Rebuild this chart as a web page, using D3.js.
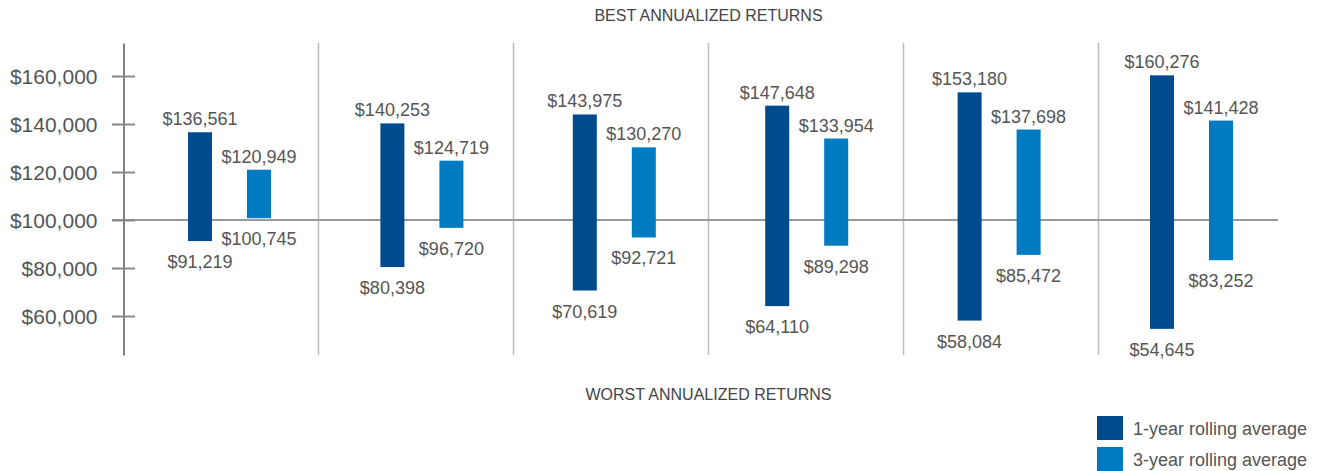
<!DOCTYPE html>
<html>
<head>
<meta charset="utf-8">
<script src="https://cdn.jsdelivr.net/npm/d3@7"></script>
<style>
  body { margin: 0; background: #fff; }
  svg { display: block; font-family: "Liberation Sans", Arial, sans-serif; }
</style>
</head>
<body>
<div id="chart"></div>
<script>
// period groups (six columns, unlabeled in the source)
const groups = ["g1", "g2", "g3", "g4", "g5", "g6"];
const oneYearHigh = [136561, 140253, 143975, 147648, 153180, 160276];
const oneYearLow = [91219, 80398, 70619, 64110, 58084, 54645];
const threeYearHigh = [120949, 124719, 130270, 133954, 137698, 141428];
const threeYearLow = [100745, 96720, 92721, 89298, 85472, 83252];
const tickValues = [60000, 80000, 100000, 120000, 140000, 160000];
const seriesNames = ["1-year rolling average", "3-year rolling average"];
const colors = ["#004b8d", "#007bc2"];

const W = 1319, H = 471;
const svg = d3.select("#chart").append("svg")
    .attr("width", W)
    .attr("height", H);

const y = d3.scaleLinear()
    .domain([43750, 173750])
    .range([355, 43]);

// columns separated by grey rules
const xGroup = d3.scaleBand()
    .domain(groups)
    .range([123.5, 1293.5]);

// bar positions inside each column
const xBar = d3.scalePoint()
    .domain(groups)
    .range([200, 1162]);
const barW = 24;
const pairGap = 59;

const fmt = d => "$" + d3.format(",")(d);

// column separators
svg.append("g")
    .selectAll("line")
    .data(groups.slice(1))
    .join("line")
    .attr("x1", d => xGroup(d))
    .attr("x2", d => xGroup(d))
    .attr("y1", y.range()[1])
    .attr("y2", y.range()[0])
    .attr("stroke", "#bdbdbd")
    .attr("stroke-width", 1.5);

// baseline at $100,000
svg.append("line")
    .attr("x1", 112)
    .attr("x2", 1278)
    .attr("y1", y(100000))
    .attr("y2", y(100000))
    .attr("stroke", "#999")
    .attr("stroke-width", 2);

// y axis
const yAxis = svg.append("g")
    .attr("transform", `translate(123.5,0)`)
    .call(d3.axisLeft(y).tickValues(tickValues).tickSize(0).tickFormat(fmt));
yAxis.select(".domain").attr("stroke", "#555").attr("stroke-width", 1.5);
yAxis.selectAll(".tick text")
    .attr("x", -26)
    .attr("dy", "0.36em")
    .attr("fill", "#555")
    .style("font-size", "21px")
    .style("font-family", "Liberation Sans, Arial, sans-serif");
yAxis.selectAll(".tick line").remove();
yAxis.selectAll(".tick").append("line")
    .attr("x1", -11.5)
    .attr("x2", 11.5)
    .attr("stroke", "#888")
    .attr("stroke-width", 2);

// build bar data
const bars = [];
groups.forEach((g, i) => {
    bars.push({ g, s: 0, hi: oneYearHigh[i], lo: oneYearLow[i] });
    bars.push({ g, s: 1, hi: threeYearHigh[i], lo: threeYearLow[i] });
});
const cx = d => xBar(d.g) + d.s * pairGap;

const gBars = svg.append("g");
gBars.selectAll("rect")
    .data(bars)
    .join("rect")
    .attr("x", d => cx(d) - barW / 2)
    .attr("width", barW)
    .attr("y", d => y(d.hi))
    .attr("height", d => y(d.lo) - y(d.hi))
    .attr("fill", d => colors[d.s]);

const gLabels = svg.append("g")
    .attr("fill", "#555")
    .style("font-size", "18px")
    .attr("text-anchor", "middle");
gLabels.selectAll("text.hi")
    .data(bars)
    .join("text")
    .attr("class", "hi")
    .attr("x", cx)
    .attr("y", d => y(d.hi) - 7)
    .text(d => fmt(d.hi));
gLabels.selectAll("text.lo")
    .data(bars)
    .join("text")
    .attr("class", "lo")
    .attr("x", cx)
    .attr("y", d => y(d.lo) + 27)
    .text(d => fmt(d.lo));

// headers
svg.append("text")
    .attr("x", 708.5)
    .attr("y", 21)
    .attr("text-anchor", "middle")
    .attr("fill", "#444")
    .style("font-size", "16px")
    .text("BEST ANNUALIZED RETURNS");
svg.append("text")
    .attr("x", 708.5)
    .attr("y", 400)
    .attr("text-anchor", "middle")
    .attr("fill", "#444")
    .style("font-size", "16px")
    .text("WORST ANNUALIZED RETURNS");

// legend
const legend = svg.append("g")
    .attr("transform", "translate(1097,416)")
    .selectAll("g")
    .data(seriesNames)
    .join("g")
    .attr("transform", (d, i) => `translate(0,${i * 31})`);
legend.append("rect")
    .attr("width", 26)
    .attr("height", 24)
    .attr("fill", (d, i) => colors[i]);
legend.append("text")
    .attr("x", 36)
    .attr("y", 19)
    .attr("fill", "#555")
    .style("font-size", "18px")
    .text(d => d);
</script>
</body>
</html>
